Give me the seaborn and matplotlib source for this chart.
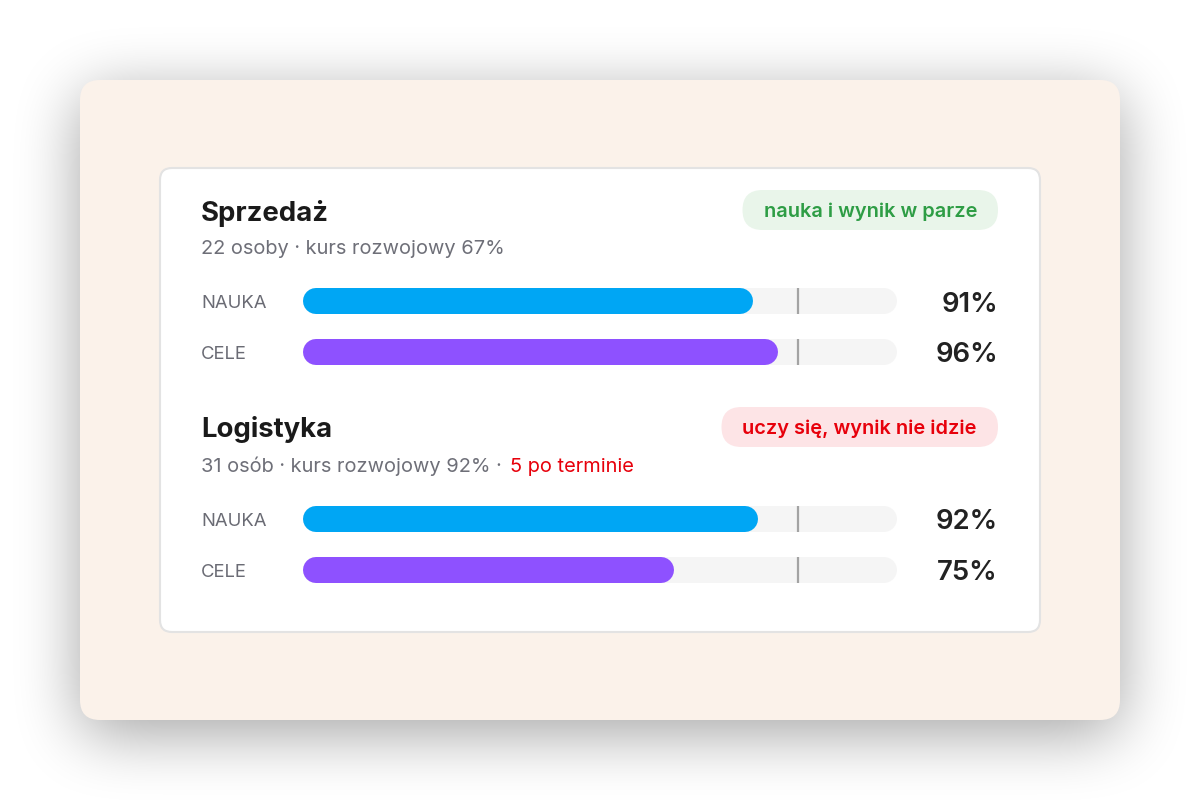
import numpy as np
import pandas as pd
import matplotlib
matplotlib.use("Agg")
import matplotlib.pyplot as plt
import seaborn as sns
from matplotlib.patches import FancyBboxPatch

# ---------------- data ----------------
sections = ["Sprzedaż", "Logistyka"]
subtitles = ["22 osoby · kurs rozwojowy 67%", "31 osób · kurs rozwojowy 92%"]
subtitle_alerts = ["", "5 po terminie"]
badges = ["nauka i wynik w parze", "uczy się, wynik nie idzie"]
badge_status = ["ok", "alert"]
metrics = ["NAUKA", "CELE"]
nauka_values = [91, 92]
cele_values = [96, 75]
target = 100
scale_max = 120

# ---------------- style ----------------
sns.set_theme(style="white")
plt.rcParams["font.family"] = ["Inter", "DejaVu Sans"]

W, H = 1200, 800
DPI = 100
PT = 72 / DPI  # px -> pt

fig = plt.figure(figsize=(W / DPI, H / DPI), dpi=DPI)
fig.patch.set_facecolor("white")
bg = fig.add_axes([0, 0, 1, 1])
bg.set_xlim(0, W)
bg.set_ylim(H, 0)
bg.axis("off")


# ---------------- shadow ----------------
def rrect_mask(x0, y0, x1, y1, r):
    yy, xx = np.mgrid[0:H, 0:W] + 0.5
    dx = np.maximum(np.maximum(x0 + r - xx, 0), xx - (x1 - r))
    dy = np.maximum(np.maximum(y0 + r - yy, 0), yy - (y1 - r))
    inside = (xx >= x0) & (xx <= x1) & (yy >= y0) & (yy <= y1)
    return (inside & (dx ** 2 + dy ** 2 <= r ** 2)).astype(float)


def box(a, r, axis):
    pad = [(0, 0), (0, 0)]
    pad[axis] = (r + 1, r)
    p = np.pad(a, pad, mode="edge")
    c = np.cumsum(p, axis=axis)
    if axis == 0:
        return (c[2 * r + 1:] - c[:-2 * r - 1]) / (2 * r + 1)
    return (c[:, 2 * r + 1:] - c[:, :-2 * r - 1]) / (2 * r + 1)


m = rrect_mask(80, 94, 1120, 734, 20)
for _ in range(3):
    m = box(m, 30, 0)
    m = box(m, 30, 1)
rgba = np.zeros((H, W, 4))
rgba[..., 3] = m * 0.36
bg.imshow(rgba, extent=(0, W, H, 0), zorder=0, interpolation="bilinear", aspect="auto")
bg.set_xlim(0, W)
bg.set_ylim(H, 0)

# ---------------- cards ----------------
bg.add_patch(FancyBboxPatch((80, 80), 1040, 640, boxstyle="round,pad=0,rounding_size=20",
                            fc="#fbf2ea", ec="none", zorder=1))
bg.add_patch(FancyBboxPatch((160, 168), 880, 464, boxstyle="round,pad=0,rounding_size=12",
                            fc="white", ec="#e3e3e3", lw=1.5, zorder=2))

renderer = fig.canvas.get_renderer()


def px_extent(t):
    bb = t.get_window_extent(renderer=renderer)
    return bb.x0, bb.x1


title_base = [220.7, 437.3]
sub_base = [254, 471.5]
badge_base = [216.7, 433.5]
badge_box = [(190, 230), (407, 447)]
row_centers = [(301.3, 352.0), (519.0, 569.7)]
badge_colors = {"ok": ("#e9f5ea", "#2e9d45"), "alert": ("#fde4e6", "#e7000b")}
bar_colors = ["#00a6f4", "#8e51ff"]
track_x0, track_x1 = 302.7, 896.7
BAR_PX = 26

for i, sec in enumerate(sections):
    bg.text(201, title_base[i], sec, fontsize=27.5 * PT, fontweight="bold", color="#1a1a1a",
            ha="left", va="baseline", zorder=5)
    st = bg.text(201, sub_base[i], subtitles[i] + (" ·" if subtitle_alerts[i] else ""),
                 fontsize=20 * PT, color="#6e6f78", ha="left", va="baseline", zorder=5)
    if subtitle_alerts[i]:
        _, x1 = px_extent(st)
        bg.text(x1 + 8, sub_base[i], subtitle_alerts[i], fontsize=20 * PT, color="#e7000b",
                ha="left", va="baseline", zorder=5)
    bfc, btc = badge_colors[badge_status[i]]
    bt = bg.text(977, badge_base[i], badges[i], fontsize=20 * PT, fontweight="semibold",
                 color=btc, ha="right", va="baseline", zorder=6)
    bx0, bx1 = px_extent(bt)
    y0, y1 = badge_box[i]
    bg.add_patch(FancyBboxPatch((bx0 - 21, y0), (998 - (bx0 - 21)), y1 - y0,
                                boxstyle="round,pad=0,rounding_size=20",
                                fc=bfc, ec="none", zorder=5))

    # labels and values
    vals = [nauka_values[i], cele_values[i]]
    for j, (lab, v) in enumerate(zip(metrics, vals)):
        c = row_centers[i][j]
        bg.text(201, c + 7, lab, fontsize=18.5 * PT, color="#6a6b74", ha="left",
                va="baseline", zorder=5)
        bg.text(998, c + 10.3, f"{v}%", fontsize=27.5 * PT, fontweight="semibold",
                color="#222222", ha="right", va="baseline", zorder=5)

    # bars axes
    c1, c2 = row_centers[i]
    step = c2 - c1
    top = c1 - step / 2
    height = 2 * step
    ax = fig.add_axes([track_x0 / W, (H - (top + height)) / H,
                       (track_x1 - track_x0) / W, height / H])
    ax.patch.set_alpha(0)
    df = pd.DataFrame({"metric": metrics, "value": vals})
    bw = BAR_PX / step
    sns.barplot(x=[scale_max] * len(metrics), y=metrics, color="#f5f5f5", saturation=1,
                width=bw, ax=ax, orient="h")
    sns.barplot(data=df, x="value", y="metric", hue="metric", palette=bar_colors,
                saturation=1, width=bw, ax=ax, legend=False, orient="h")
    ax.set_xlim(0, scale_max)
    ax.set_ylim(len(metrics) - 0.5, -0.5)
    ax.axis("off")

    # turn each seaborn bar into a capsule with fully round ends
    px_x = (track_x1 - track_x0) / scale_max
    r = (BAR_PX / 2) / px_x
    for k, p in enumerate(list(ax.patches)):
        x0, w = p.get_x(), p.get_width()
        yc = p.get_y() + p.get_height() / 2
        fc = p.get_facecolor()
        z = 1 if k < len(metrics) else 3
        p.set_visible(False)
        ax.plot([x0 + r, x0 + w - r], [yc, yc], color=fc, lw=BAR_PX * PT,
                solid_capstyle="round", zorder=z)
    ypos = np.arange(len(metrics))
    ax.vlines([target] * len(metrics), ypos - bw / 2, ypos + bw / 2,
              color="#a3a3a3", lw=1.6, zorder=2)

fig.savefig("out.png", dpi=DPI)
